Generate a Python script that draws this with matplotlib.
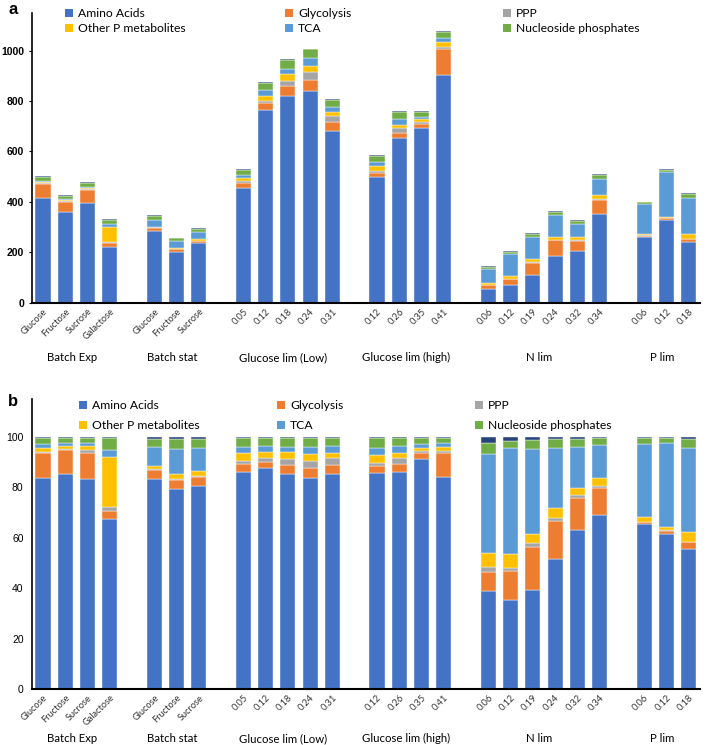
import matplotlib
matplotlib.use("Agg")
import matplotlib.pyplot as plt
import numpy as np

plt.rcParams['font.family'] = ['Lato', 'DejaVu Sans']

# groups and bar labels
groups = ['Batch Exp', 'Batch stat', 'Glucose lim (Low)', 'Glucose lim (high)', 'N lim', 'P lim']
group_bars = [
    ['Glucose', 'Fructose', 'Sucrose', 'Galactose'],
    ['Glucose', 'Fructose', 'Sucrose'],
    ['0.05', '0.12', '0.18', '0.24', '0.31'],
    ['0.12', '0.26', '0.35', '0.41'],
    ['0.06', '0.12', '0.19', '0.24', '0.32', '0.34'],
    ['0.06', '0.12', '0.18'],
]
series_names = ['Amino Acids', 'Glycolysis', 'PPP', 'Other P metabolites', 'TCA',
                'Nucleoside phosphates', 'Other']
colors = ['#4472C4', '#ED7D31', '#A5A5A5', '#FFC000', '#5B9BD5', '#70AD47', '#264478']

# panel a: absolute amounts
a_amino = [417, 359, 394, 220, 284, 203, 236, 454, 766, 821, 842, 683, 499, 652, 694, 905,
           55, 71, 110, 187, 206, 352, 261, 327, 241]
a_glyc = [53, 42, 53, 15, 13, 10, 8, 21, 26, 37, 43, 33, 17, 21, 17, 100,
          14, 23, 48, 60, 39, 56, 5, 8, 12]
a_ppp = [3, 2, 3, 5, 2, 2, 2, 6, 10, 23, 32, 24, 6, 20, 7, 11,
         1, 1, 3, 2, 4, 2, 2, 3, 1]
a_otherp = [5, 3, 4, 60, 3, 4, 5, 15, 20, 27, 24, 17, 20, 14, 9, 18,
            9, 12, 11, 11, 10, 16, 6, 4, 17]
a_tca = [6, 4, 6, 13, 26, 24, 29, 11, 22, 19, 30, 20, 15, 21, 10, 15,
         56, 88, 89, 87, 55, 63, 116, 176, 146]
a_nuc = [15, 12, 15, 16, 15, 12, 12, 19, 27, 36, 34, 28, 26, 29, 20, 24,
         7, 6, 12, 13, 9, 16, 8, 10, 15]
a_other = [4, 4, 3, 3, 3, 3, 3, 4, 4, 3, 3, 2, 3, 3, 4, 4,
           4, 5, 4, 3, 4, 4, 3, 2, 4]

# panel b: percentages
b_amino = [83.6, 85.2, 83.1, 67.4, 83.2, 79.3, 80.7, 86.0, 87.6, 85.1, 83.6, 85.1, 85.8, 86.0, 91.3, 84.0,
           38.8, 35.4, 39.3, 51.6, 63.1, 69.0, 65.3, 61.6, 55.4]
b_glyc = [9.8, 9.4, 10.4, 3.2, 3.6, 3.7, 3.3, 3.1, 2.6, 3.6, 4.1, 3.7, 2.6, 3.1, 2.1, 9.5,
          7.6, 11.4, 17.2, 15.2, 12.5, 10.8, 0.8, 1.1, 2.8]
b_ppp = [0.7, 0.5, 1.1, 1.4, 0.3, 0.2, 0.3, 1.3, 1.4, 2.6, 2.9, 2.9, 1.3, 2.5, 0.8, 0.8,
         1.9, 1.1, 1.3, 1.0, 1.2, 0.9, 0.3, 0.2, 0.2]
b_otherp = [1.5, 1.3, 1.6, 20.0, 1.2, 2.2, 2.0, 3.0, 2.5, 2.5, 2.7, 2.0, 2.9, 1.8, 1.4, 1.7,
            5.5, 5.5, 3.7, 4.0, 2.9, 3.1, 1.7, 1.3, 4.0]
b_tca = [1.6, 1.1, 1.2, 2.6, 7.7, 9.7, 9.2, 2.4, 2.3, 2.1, 2.7, 2.7, 2.9, 2.9, 1.5, 1.6,
         39.3, 42.2, 33.8, 23.8, 16.2, 12.8, 29.0, 33.2, 33.2]
b_nuc = [2.3, 2.1, 2.2, 4.9, 3.3, 4.2, 3.8, 3.8, 3.2, 3.7, 3.6, 3.2, 4.0, 3.3, 2.5, 2.0,
         4.3, 2.9, 3.6, 3.6, 3.3, 2.9, 2.4, 2.1, 3.5]
b_other = [0.5, 0.4, 0.4, 0.5, 0.7, 0.7, 0.7, 0.4, 0.4, 0.4, 0.4, 0.4, 0.5, 0.4, 0.4, 0.4,
           2.6, 1.5, 1.1, 0.8, 0.8, 0.5, 0.5, 0.5, 0.9]

# x positions: one empty slot between groups
pos = []
labels = []
group_centres = []
slot = 0
for g, bars in enumerate(group_bars):
    start = slot
    for b in bars:
        pos.append(slot)
        labels.append(b)
        slot += 1
    group_centres.append((start + slot - 1) / 2)
    slot += 1
pos = np.array(pos, dtype=float)

fig = plt.figure(figsize=(7.09, 7.45), dpi=100)
ax_a = fig.add_axes([0.045, 0.5937, 0.942, 0.389])
ax_b = fig.add_axes([0.045, 0.0752, 0.942, 0.3892])


def draw_panel(ax, data, ymax, yticks, bold, label_drop):
    bottom = np.zeros(len(pos))
    handles = []
    for vals, name, col in zip(data, series_names, colors):
        h = ax.bar(pos, vals, width=0.68, bottom=bottom, color=col,
                   edgecolor='white', linewidth=0.3, label=name)
        handles.append(h)
        bottom += np.array(vals)
    ax.set_xlim(-0.5, 29.5)
    ax.set_ylim(0, ymax)
    ax.set_yticks(yticks)
    ax.set_yticklabels([str(t) for t in yticks], family='Liberation Sans', fontsize=7.5,
                       fontweight='bold' if bold else 'normal')
    ax.set_xticks(pos)
    ax.set_xticklabels(labels, rotation=45, ha='right', rotation_mode='anchor',
                       fontsize=6.7, color='#333333')
    ax.tick_params(axis='x', length=0, pad=3)
    if bold:
        ax.tick_params(axis='y', length=2.5, width=0.8, pad=3)
    else:
        ax.tick_params(axis='y', length=0, pad=6)
    for s in ['top', 'right']:
        ax.spines[s].set_visible(False)
    ax.spines['left'].set_linewidth(1.2)
    ax.spines['bottom'].set_linewidth(1.5)
    for name, c in zip(groups, group_centres):
        ax.annotate(name, xy=(c - 0.2, 0), xycoords=('data', 'axes fraction'),
                    xytext=(0, -label_drop), textcoords='offset pixels',
                    ha='center', va='center', fontsize=8.2)
    return handles


ha = draw_panel(ax_a, [a_amino, a_glyc, a_ppp, a_otherp, a_tca, a_nuc, a_other],
                1150, [0, 200, 400, 600, 800, 1000], True, 55)
hb = draw_panel(ax_b, [b_amino, b_glyc, b_ppp, b_otherp, b_tca, b_nuc, b_other],
                115, [0, 20, 40, 60, 80, 100], False, 50)


def legends(handles, xs, ytop, spacing):
    cols = [[0, 3], [1, 4], [2, 5]]
    for x, idx in zip(xs, cols):
        leg = fig.legend([handles[i] for i in idx], [series_names[i] for i in idx],
                         loc='upper left', bbox_to_anchor=(x, ytop), frameon=False,
                         fontsize=8.7, handlelength=0.7, handleheight=0.7,
                         handletextpad=0.4, borderpad=0, borderaxespad=0,
                         labelspacing=spacing)
        for p in leg.get_patches():
            p.set_edgecolor('none')


legends(ha, [65 / 709, 285 / 709, 503 / 709], 1 - 8 / 745, 0.35)
legends(hb, [79 / 709, 277 / 709, 475 / 709], 1 - 400 / 745, 0.75)

fig.text(13 / 709, 1 - 10 / 745, 'a', fontsize=12, fontweight='bold',
         family='Liberation Sans', ha='center', va='center')
fig.text(13 / 709, 1 - 402 / 745, 'b', fontsize=12, fontweight='bold',
         family='Liberation Sans', ha='center', va='center')

fig.savefig('out.png', dpi=100)
